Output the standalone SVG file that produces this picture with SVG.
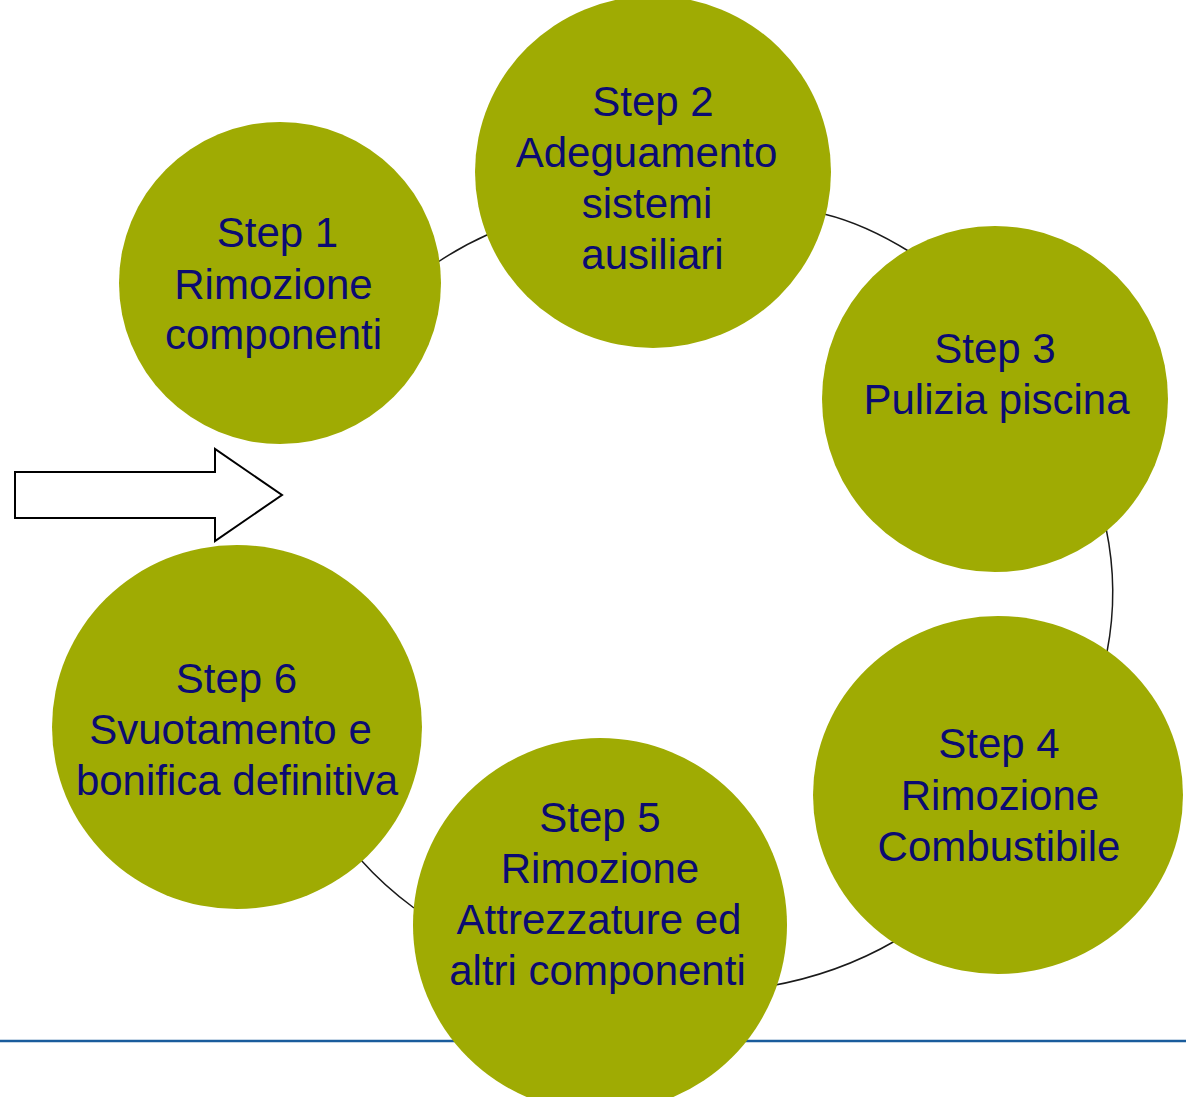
<svg xmlns="http://www.w3.org/2000/svg" width="1186" height="1097" viewBox="0 0 1186 1097">
<style>
.node{fill:#9fab03}
.lbl{font-family:"Liberation Sans",Arial,sans-serif;font-size:42px;fill:#0b0b72;text-anchor:middle}
.conn{fill:none;stroke:#1a1a1a;stroke-width:1.5}
</style>
<rect width="1186" height="1097" fill="#ffffff"/>
<line x1="0" y1="1041" x2="1186" y2="1041" stroke="#1a5c9c" stroke-width="2.5"/>
<g id="connectors">
<path class="conn" d="M438,262 Q462,246 489,234"/>
<path class="conn" d="M824,214 Q865,224 910,252"/>
<path class="conn" d="M1106,528 Q1119,590 1107,652"/>
<path class="conn" d="M770,986 Q838,974 895,941"/>
<path class="conn" d="M360,859 Q384,886 414,908"/>
</g>
<g id="start-arrow">
<polygon points="15,472 215,472 215,449 282,495 215,541 215,518 15,518" fill="#ffffff" stroke="#000000" stroke-width="2" stroke-linejoin="miter"/>
</g>
<g id="step1">
<circle class="node" cx="280" cy="283" r="161"/>
<text class="lbl" x="277.5" y="247">Step 1</text>
<text class="lbl" x="273.5" y="299">Rimozione</text>
<text class="lbl" x="273.5" y="349">componenti</text>
</g>
<g id="step2">
<ellipse class="node" cx="653" cy="172" rx="178" ry="176"/>
<text class="lbl" x="653" y="116">Step 2</text>
<text class="lbl" x="646.5" y="167">Adeguamento</text>
<text class="lbl" x="647" y="218">sistemi</text>
<text class="lbl" x="652.5" y="269">ausiliari</text>
</g>
<g id="step3">
<circle class="node" cx="995" cy="399" r="173"/>
<text class="lbl" x="995" y="363">Step 3</text>
<text class="lbl" x="996.5" y="414">Pulizia piscina</text>
</g>
<g id="step4">
<ellipse class="node" cx="998" cy="795" rx="185" ry="179"/>
<text class="lbl" x="999" y="758">Step 4</text>
<text class="lbl" x="1000" y="810">Rimozione</text>
<text class="lbl" x="999" y="861">Combustibile</text>
</g>
<g id="step5">
<circle class="node" cx="600" cy="925" r="187"/>
<text class="lbl" x="600" y="832">Step 5</text>
<text class="lbl" x="600" y="883">Rimozione</text>
<text class="lbl" x="599" y="934">Attrezzature ed</text>
<text class="lbl" x="597.5" y="985">altri componenti</text>
</g>
<g id="step6">
<ellipse class="node" cx="237" cy="727" rx="185" ry="182"/>
<text class="lbl" x="236.5" y="693">Step 6</text>
<text class="lbl" x="230.5" y="744">Svuotamento e</text>
<text class="lbl" x="237" y="795">bonifica definitiva</text>
</g>
</svg>
